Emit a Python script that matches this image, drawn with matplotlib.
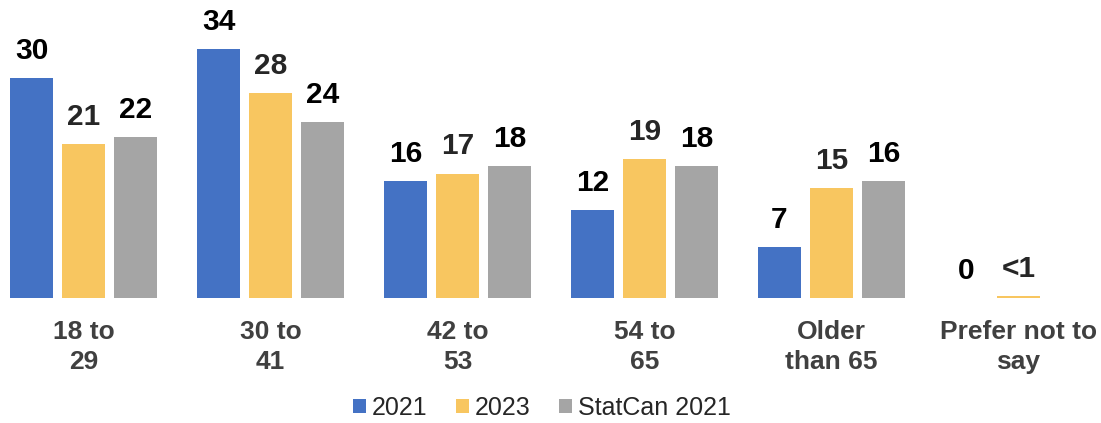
import matplotlib
matplotlib.use("Agg")
import matplotlib.pyplot as plt
import numpy as np

# 数据
categories = ["18 to\n29", "30 to\n41", "42 to\n53", "54 to\n65", "Older\nthan 65", "Prefer not to\nsay"]
series_names = ["2021", "2023", "StatCan 2021"]
vals_2021 = [30, 34, 16, 12, 7, 0]
vals_2023 = [21, 28, 17, 19, 15, 0.3]
vals_statcan = [22, 24, 18, 18, 16, None]
labels_2021 = ["30", "34", "16", "12", "7", "0"]
labels_2023 = ["21", "28", "17", "19", "15", "<1"]
labels_statcan = ["22", "24", "18", "18", "16", ""]

_COLORS = ["#4472C4", "#F8C660", "#A5A5A5"]
_LABEL_COLORS = ["#000000", "#262626", "#000000"]
_FONT = ["Liberation Sans", "Arial", "DejaVu Sans"]

plt.rcParams["font.family"] = _FONT

W, H = 1101, 423
fig = plt.figure(figsize=(W / 100, H / 100), dpi=100)
# 坐标轴: 基线在 y=298px, 组间距 187px
base_px = 298
ax = fig.add_axes([0, (H - base_px) / H, 1, base_px / H])

x = np.arange(len(categories))
bw = 0.225
pitch = 0.278
all_vals = [vals_2021, vals_2023, vals_statcan]
all_labels = [labels_2021, labels_2023, labels_statcan]
for i, (vals, labs) in enumerate(zip(all_vals, all_labels)):
    off = (i - 1) * pitch
    xs = [xi + off for xi, v in zip(x, vals) if v is not None]
    hs = [v for v in vals if v is not None]
    ax.bar(xs, hs, width=bw, color=_COLORS[i], label=series_names[i])
    for xi, v, lab in zip(x, vals, labs):
        if v is None or lab == "":
            continue
        ax.annotate(lab, (xi + off, v), textcoords="offset points", xytext=(0, 9.5),
                    ha="center", va="bottom", fontsize=21.5, fontweight="bold",
                    color=_LABEL_COLORS[i])

px_per_unit = 187
ax.set_xlim(-83.5 / px_per_unit, (W - 83.5) / px_per_unit)
ax.set_ylim(0, base_px / 7.32)
ax.set_xticks(x)
ax.set_xticklabels(categories, fontsize=19, fontweight="bold", color="#404040",
                   linespacing=1.3)
ax.tick_params(axis="x", length=0, pad=16)
ax.set_yticks([])
for s in ax.spines.values():
    s.set_visible(False)

fig.legend(loc="center", bbox_to_anchor=(542 / W, 1 - 408 / H), ncol=3, frameon=False,
           fontsize=18, handlelength=0.5, handleheight=0.5, handletextpad=0.25,
           columnspacing=1.15, labelcolor="#262626")

fig.savefig("out.png", dpi=100)
